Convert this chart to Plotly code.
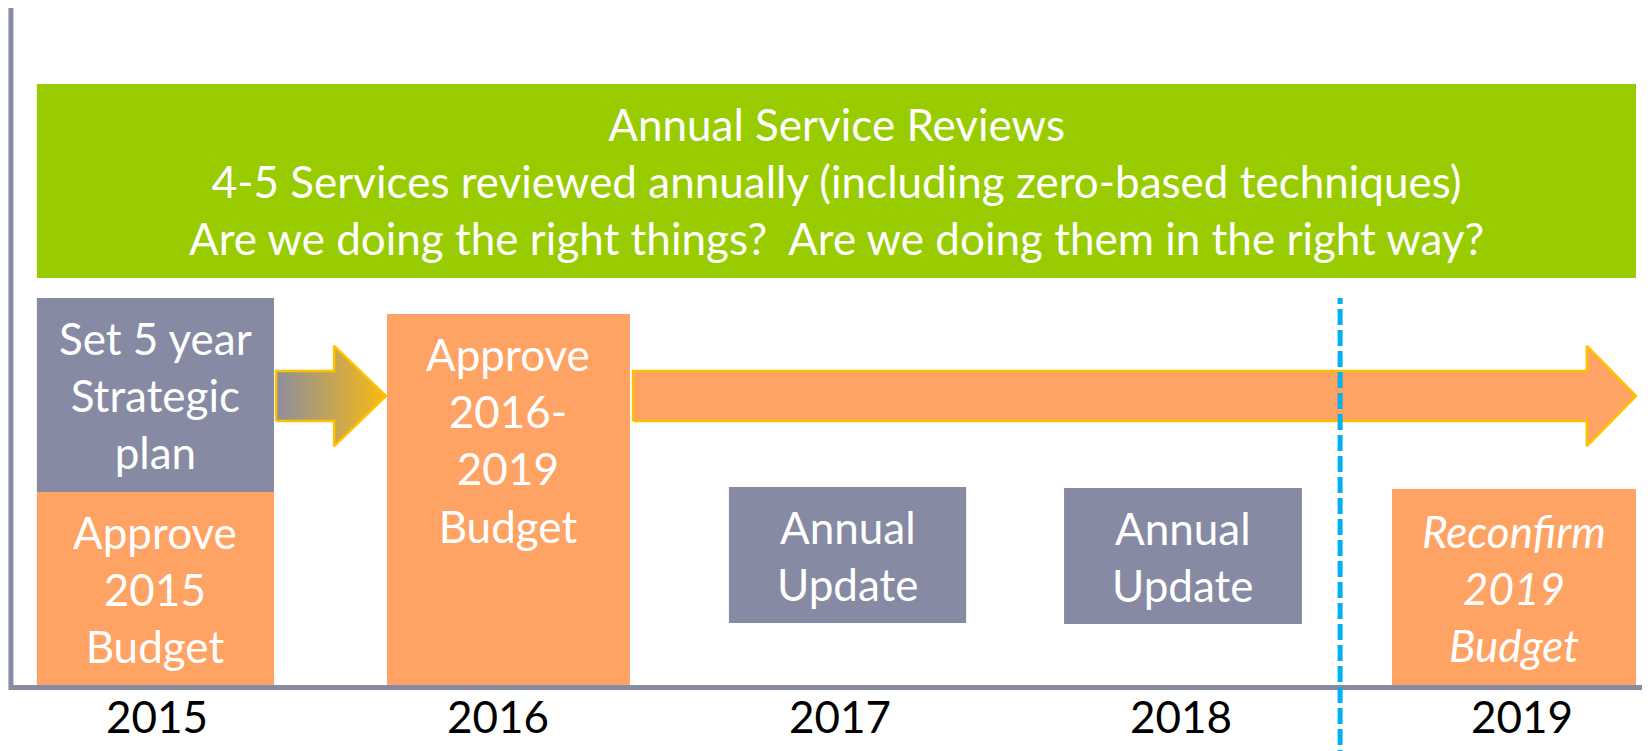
import plotly.graph_objects as go

# timeline columns
years = [2015, 2016, 2017, 2018, 2019]

# milestone boxes: text, start/end (in years), bottom/top (height units)
box_text = ["Set 5 year<br>Strategic<br>plan",
            "Approve<br>2015<br>Budget",
            "Approve<br>2016-<br>2019<br>Budget",
            "Annual<br>Update",
            "Annual<br>Update",
            "<i>Reconfirm</i><br><i>2019</i><br><i>Budget</i>"]
box_start = [2014.648, 2014.648, 2015.674, 2016.676, 2017.658, 2018.619]
box_end = [2015.343, 2015.343, 2016.386, 2017.371, 2018.355, 2019.334]
box_bottom = [19.4, 0, 0, 6.3, 6.2, 0]
box_top = [38.8, 19.4, 37.2, 19.9, 19.8, 19.7]
box_kind = ["plan", "budget", "budget", "update", "update", "budget"]
text_level = [None, None, 24.6, None, None, None]  # 2016 text sits high in its box

# review banner across all years
banner_text = ["Annual Service Reviews",
               "4-5 Services reviewed annually (including zero-based techniques)",
               "Are we doing the right things?\u00a0 Are we doing them in the right way?"]
banner_start, banner_end = 2014.648, 2019.334
banner_bottom, banner_top = 40.8, 60.2

# arrows: start, head base, tip
arrow_start = [2015.349, 2016.395]
arrow_head = [2015.519, 2019.190]
arrow_tip = [2015.671, 2019.334]
arrow_level = 29.0

# "today" marker
today = 2018.467

GREY = "#868AA3"
ORANGE = "#FFA365"
GREEN = "#99CC00"
GOLD = "#FFC000"
BLUE = "#00B0F0"
FONT = "Lato"
colors = {"plan": GREY, "update": GREY, "budget": ORANGE}

fig = go.Figure()

# banner + boxes as bars
fig.add_trace(go.Bar(
    x=[(banner_start + banner_end) / 2], width=[banner_end - banner_start],
    base=[banner_bottom], y=[banner_top - banner_bottom],
    marker=dict(color=GREEN, line=dict(width=0)), hoverinfo="skip"))
fig.add_trace(go.Bar(
    x=[(a + b) / 2 for a, b in zip(box_start, box_end)],
    width=[b - a for a, b in zip(box_start, box_end)],
    base=box_bottom, y=[t - b for t, b in zip(box_top, box_bottom)],
    marker=dict(color=[colors[k] for k in box_kind], line=dict(width=0)),
    hoverinfo="skip"))

# arrows
half_shaft, half_head = 2.5, 5.0
for i, (s, h, t) in enumerate(zip(arrow_start, arrow_head, arrow_tip)):
    xs = [s, h, h, t, h, h, s, s]
    ys = [arrow_level - half_shaft, arrow_level - half_shaft, arrow_level - half_head,
          arrow_level, arrow_level + half_head, arrow_level + half_shaft,
          arrow_level + half_shaft, arrow_level - half_shaft]
    if i == 0:
        fill = dict(fillgradient=dict(type="horizontal",
                                      colorscale=[[0, "#8E8E9E"], [1, "#F7BA12"]]))
    else:
        fill = dict(fillcolor=ORANGE)
    fig.add_trace(go.Scatter(x=xs, y=ys, mode="lines", fill="toself",
                             line=dict(color=GOLD, width=2.5), hoverinfo="skip", **fill))

# axes drawn as lines
fig.add_trace(go.Scatter(x=[2014.572, 2014.572, 2019.42], y=[68.0, -0.15, -0.15],
                         mode="lines", line=dict(color=GREY, width=5), hoverinfo="skip"))
fig.add_trace(go.Scatter(x=[today, today], y=[-8, 38.8], mode="lines",
                         line=dict(color=BLUE, width=5, dash="16px,5px"), hoverinfo="skip"))

# texts
fig.add_annotation(x=(banner_start + banner_end) / 2, y=(banner_bottom + banner_top) / 2,
                   text="<br>".join(banner_text), showarrow=False,
                   font=dict(family=FONT, size=44, color="white"))
for txt, a, b, lo, hi, lvl in zip(box_text, box_start, box_end, box_bottom, box_top, text_level):
    fig.add_annotation(x=(a + b) / 2, y=lvl if lvl is not None else (lo + hi) / 2,
                       text=txt, showarrow=False,
                       font=dict(family=FONT, size=44, color="white"))
for yr in years:
    fig.add_annotation(x=yr, y=-3.0, text=str(yr), showarrow=False,
                       font=dict(family=FONT, size=44, color="black"))

fig.update_layout(
    width=1650, height=751, margin=dict(l=0, r=0, t=0, b=0),
    paper_bgcolor="white", plot_bgcolor="white", showlegend=False,
    barmode="overlay",
    xaxis=dict(range=[2014.5634, 2019.3985], visible=False, fixedrange=True),
    yaxis=dict(range=[-7.3, 67.8], visible=False, fixedrange=True),
)
fig.write_html("out.html")
